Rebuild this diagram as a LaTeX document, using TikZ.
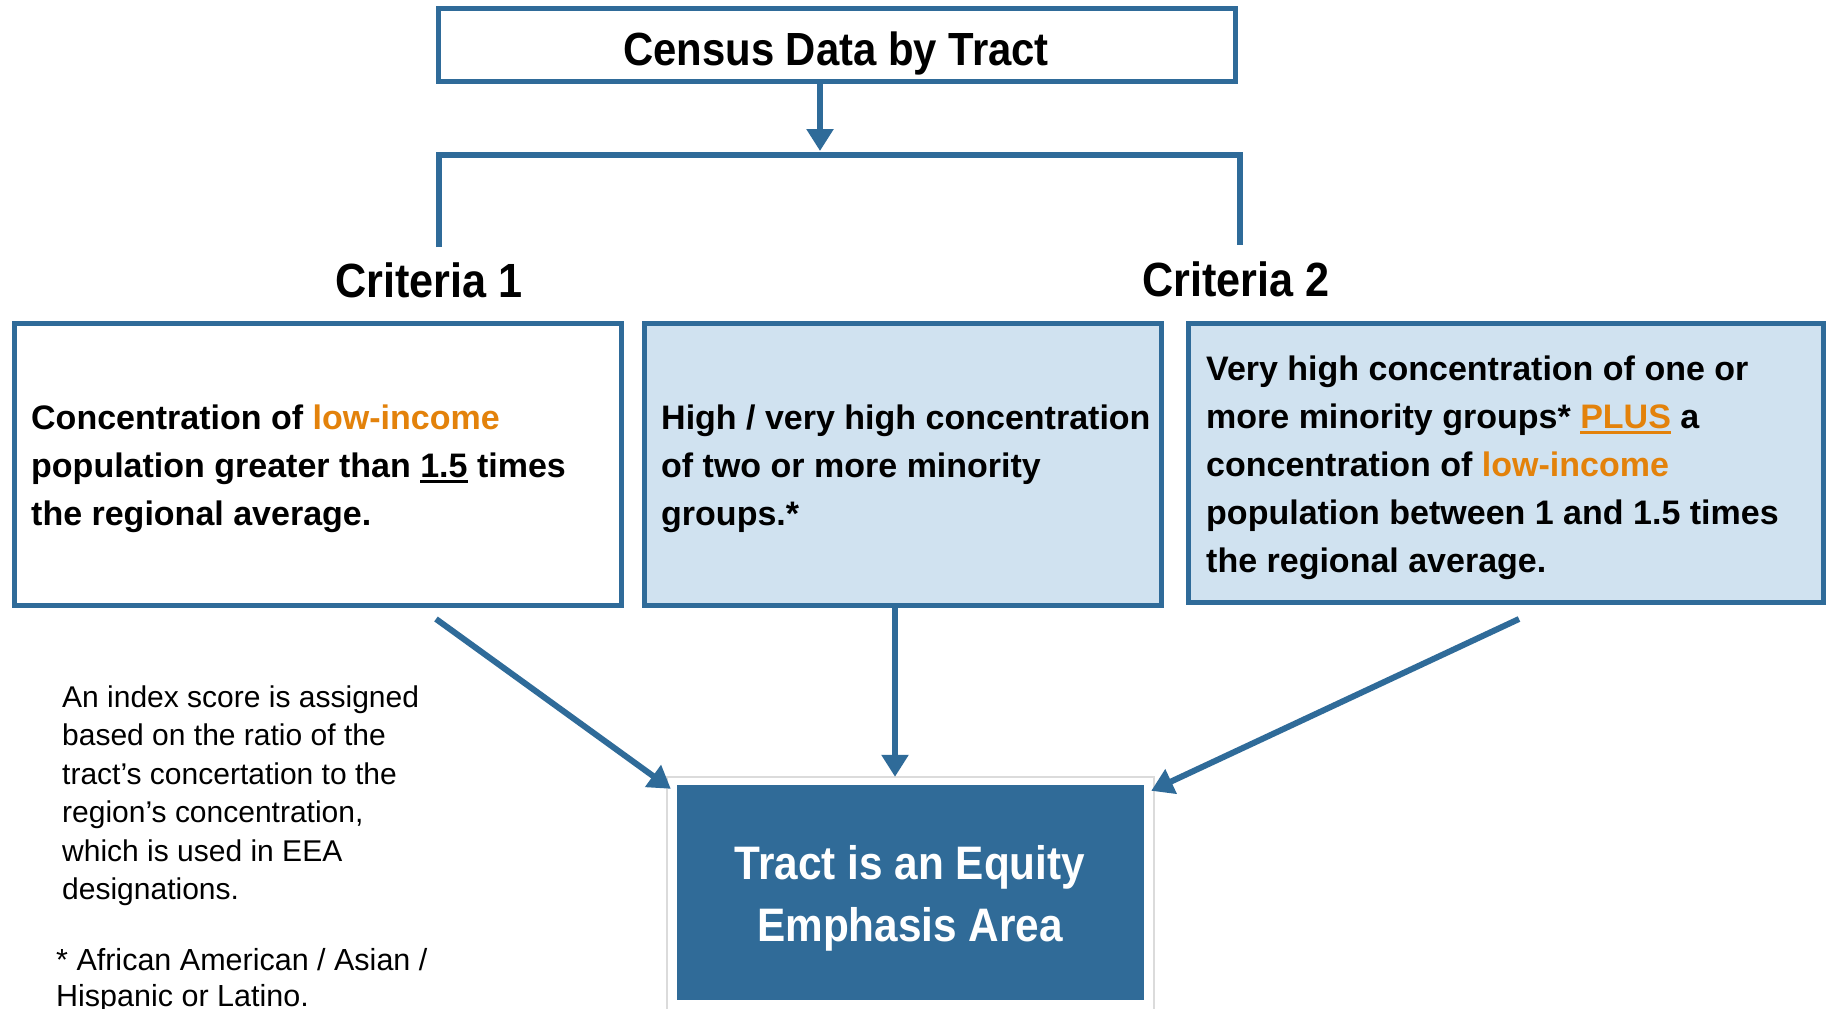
\documentclass[tikz,border=0pt]{standalone}
\usepackage{fontspec}
\setmainfont{Liberation Sans}
\newfontfamily\condfont[FakeStretch=0.9]{Liberation Sans}
\usetikzlibrary{arrows.meta,calc}
\definecolor{eblue}{HTML}{2F6B99}
\definecolor{edark}{HTML}{306B98}
\definecolor{lblue}{HTML}{D0E2F0}
\definecolor{eorange}{HTML}{E3820B}
\newcommand\ulx[1]{\setbox0\hbox{#1}\rlap{\rule[-5pt]{\wd0}{2.6pt}}#1}
\tikzset{
  box/.style={draw=eblue, line width=5pt, inner sep=0pt},
  conn/.style={draw=eblue, line width=6pt},
  arr/.style={conn, -{Triangle[length=22pt,width=26pt]}},
  boxtext/.style={anchor=west, align=left, inner sep=0pt, font=\fontsize{34}{48}\selectfont\bfseries},
  headtext/.style={anchor=base, inner sep=0pt},
  notetext/.style={anchor=west, align=left, inner sep=0pt}
}
\begin{document}
\begin{tikzpicture}[x=1pt,y=-1pt]
\path[clip] (0,0) rectangle (1829,1009);
\fill[white] (0,0) rectangle (1829,1009);
% top box
\node[box, fill=white, minimum width=797, minimum height=73] (top) at (837,45) {};
\node[headtext, font=\condfont\bfseries\fontsize{46.5}{50}\selectfont] (toptext) at (836,65) {Census Data by Tract};
% bracket
\coordinate (bl) at (439,247);
\coordinate (br) at (1240,245);
\coordinate (bj) at (820,155);
\coordinate (tip0) at (820,151);
\draw[conn, line join=miter] (bl) -- (bl |- bj) -- (br |- bj) -- (br);
\draw[arr] (top.south -| tip0) -- (tip0);
% criteria labels
\node[headtext, font=\condfont\bfseries\fontsize{48}{50}\selectfont] (c1) at (429,297) {Criteria 1};
\node[headtext, font=\condfont\bfseries\fontsize{48}{50}\selectfont] (c2) at (1236,296) {Criteria 2};
% criteria boxes
\node[box, fill=white, minimum width=607, minimum height=282.5] (b1) at (318,464.5) {};
\node[box, fill=lblue, minimum width=517, minimum height=282.5] (b2) at (903,464.5) {};
\node[box, fill=lblue, minimum width=635, minimum height=279.5] (b3) at (1506,463) {};
\node[boxtext] (t1) at (31,469) {Concentration of {\color{eorange}low-income}\\population greater than \ulx{1.5} times\\the regional average.};
\node[boxtext] (t2) at (661,469) {High / very high concentration\\of two or more minority\\groups.*};
\node[boxtext] (t3) at (1206,468) {Very high concentration of one or\\more minority groups* {\color{eorange}\ulx{PLUS}} a\\concentration of {\color{eorange}low-income}\\population between 1 and 1.5 times\\the regional average.};
% result box
\node[fill=edark, minimum width=467, minimum height=215, inner sep=0pt] (eea) at (910.5,892.5) {};
\draw[black!14, line width=1.5pt] ([shift={(-10,-8)}]eea.north west) rectangle ([shift={(10,25)}]eea.south east);
\node[align=center, inner sep=0pt, text=white, font=\condfont\bfseries\fontsize{47}{62}\selectfont] (eeatext) at (910,898) {Tract is an Equity\\Emphasis Area};
% arrows
\coordinate (s1) at (436,619);
\coordinate (s3) at (1519,619);
\draw[arr] (s1) -- ([shift={(-6,4)}]eea.north west);
\draw[arr] ([shift={(-8,0)}]b2.south) -- ([shift={(-15.5,-8)}]eea.north);
\draw[arr] (s3) -- ([shift={(7,6)}]eea.north east);
% notes
\node[notetext, font=\fontsize{30}{38.5}\selectfont] (note) at (62,795.5) {An index score is assigned\\based on the ratio of the\\tract’s concertation to the\\region’s concentration,\\which is used in EEA\\designations.};
\node[notetext, font=\fontsize{30.5}{36}\selectfont] (foot) at (56,980.5) {* African American / Asian /\\Hispanic or Latino.};
\end{tikzpicture}
\end{document}
